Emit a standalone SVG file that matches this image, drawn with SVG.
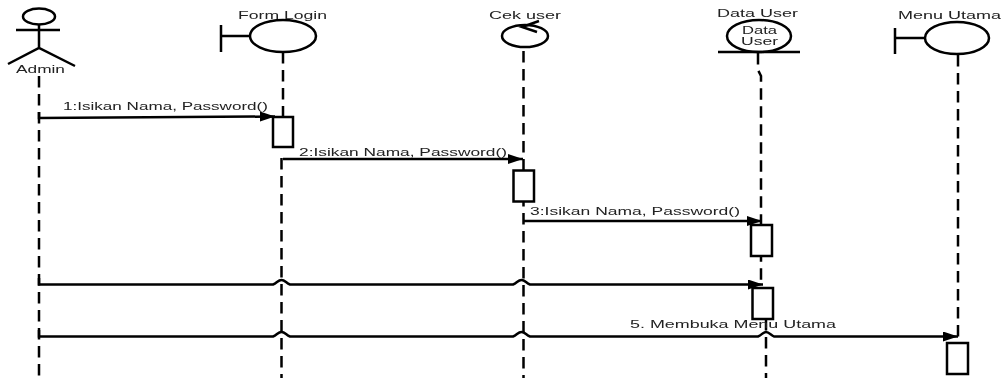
<svg xmlns="http://www.w3.org/2000/svg" width="1002" height="378" viewBox="0 0 1002 378">
<style>
.s{fill:none;stroke:#000;stroke-width:2.5}
.box{fill:#fff;stroke:#000;stroke-width:2.5}
.m{fill:none;stroke:#000;stroke-width:2.5}
.d{fill:none;stroke:#000;stroke-width:2.5;stroke-dasharray:11.500 6.500}
text{font-family:"Liberation Sans",Arial,sans-serif;font-size:10px;fill:#222;filter:url(#soft)}
</style>
<defs>
<filter id="soft" x="-5%" y="-30%" width="110%" height="160%"><feGaussianBlur stdDeviation="0.5 0.3"/></filter>
<marker id="a" markerUnits="userSpaceOnUse" markerWidth="18" markerHeight="12" refX="15" refY="5" orient="auto"><path d="M0 0L15 5L0 10Z" fill="#000"/></marker>
</defs>
<g id="lifelines">
<path class="d" d="M39 76V378"/>
<path class="d" d="M283 52V148M281.500 158V378"/>
<path class="d" d="M523.500 51V378"/>
<path class="d" d="M758 53V70L761 76V285"/>
<path class="d" d="M766 319V378"/>
<path class="d" d="M958 55V342"/>
</g>
<g id="connectors">
<path class="m" d="M39 112V118L275 116.500" marker-end="url(#a)"/>
<path class="m" d="M283 159H523" marker-end="url(#a)"/>
<path class="m" d="M523 221H762" marker-end="url(#a)"/>
<path class="m" d="M39 278V284.500H273C277 283 278 280 281.500 280S286 283 290 284.500H513C517 283 518 280 521.500 280S526 283 530 284.500H763" marker-end="url(#a)"/>
<path class="m" d="M39 330V336.500H273C277 335 278 332 281.500 332S286 335 290 336.500H513C517 335 518 332 521.500 332S526 335 530 336.500H758C762 335 763 332 766 332S771 335 774 336.500H958" marker-end="url(#a)"/>
</g>
<g id="admin">
<ellipse class="s" cx="39" cy="16.500" rx="16" ry="8"/>
<path class="s" d="M16 30H60M39 25V48M8 64L39 48L75 66"/>
<text x="16" y="72.500" textLength="49" lengthAdjust="spacingAndGlyphs">Admin</text>
</g>
<g id="form-login">
<path class="s" d="M221 25V52M221 36H250"/>
<ellipse class="s" cx="283" cy="36" rx="33" ry="16"/>
<text x="238" y="19" textLength="89" lengthAdjust="spacingAndGlyphs">Form Login</text>
</g>
<g id="cek-user">
<ellipse class="s" cx="525" cy="36" rx="23" ry="11"/>
<path class="s" d="M539 21L522 27L537 32"/>
<text x="489" y="18.500" textLength="72" lengthAdjust="spacingAndGlyphs">Cek user</text>
</g>
<g id="data-user">
<ellipse class="s" cx="759" cy="36" rx="32" ry="16"/>
<path class="s" d="M718 52H800"/>
<text x="717" y="17" textLength="81" lengthAdjust="spacingAndGlyphs">Data User</text>
<text x="742" y="34" textLength="35" lengthAdjust="spacingAndGlyphs">Data</text>
<text x="741" y="45" textLength="37" lengthAdjust="spacingAndGlyphs">User</text>
</g>
<g id="menu-utama">
<path class="s" d="M895 28V54M895 38H925"/>
<ellipse class="s" cx="957" cy="38" rx="32" ry="16"/>
<text x="898" y="18.500" textLength="103" lengthAdjust="spacingAndGlyphs">Menu Utama</text>
</g>
<g id="activations">
<rect class="box" x="273" y="117" width="20" height="30"/>
<rect class="box" x="513.500" y="170.500" width="20.500" height="31"/>
<rect class="box" x="751" y="225" width="21" height="31"/>
<rect class="box" x="752.500" y="288" width="20.500" height="31"/>
<rect class="box" x="947" y="343" width="21" height="31"/>
</g>
<g id="labels">
<text x="63" y="109.500" textLength="205" lengthAdjust="spacingAndGlyphs">1:Isikan Nama, Password()</text>
<text x="299" y="156" textLength="208" lengthAdjust="spacingAndGlyphs">2:Isikan Nama, Password()</text>
<text x="530" y="215" textLength="210" lengthAdjust="spacingAndGlyphs">3:Isikan Nama, Password()</text>
<text x="630" y="328" textLength="206" lengthAdjust="spacingAndGlyphs">5. Membuka Menu Utama</text>
</g>
</svg>
